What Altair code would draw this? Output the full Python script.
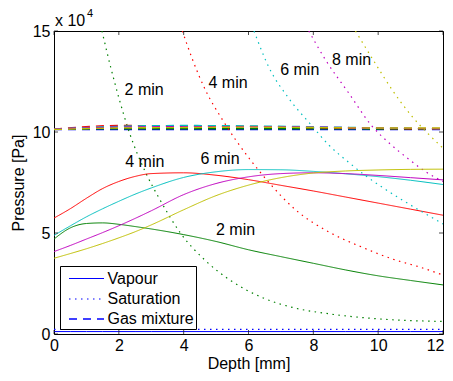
import altair as alt
import pandas as pd

FONT = "Liberation Sans"

times = ["0 min", "2 min", "4 min", "6 min", "8 min", "10 min"]
colors = ["#0000ff", "#008000", "#ff0000", "#00bfbf", "#bf00bf", "#bfbf00"]
kinds = ["Vapour", "Saturation", "Gas mixture"]

# Vapour pressure (x 10^4 Pa) vs depth (mm)
vap_depth = [0, 0.5, 1, 1.5, 2, 2.5, 3, 4, 5, 6, 7, 8, 9, 10, 11, 12]
vap_0 = [0.12, 0.12, 0.12, 0.12, 0.12, 0.12, 0.12, 0.12, 0.12, 0.12, 0.12, 0.12, 0.12, 0.12, 0.12, 0.12]
vap_2 = [4.70, 5.25, 5.47, 5.50, 5.43, 5.32, 5.20, 4.92, 4.58, 4.17, 3.83, 3.50, 3.17, 2.88, 2.65, 2.43]
vap_4 = [5.74, 6.20, 6.72, 7.20, 7.55, 7.80, 7.94, 7.98, 7.86, 7.64, 7.36, 7.08, 6.78, 6.48, 6.18, 5.88]
vap_6 = [4.88, 5.35, 5.80, 6.20, 6.57, 6.92, 7.23, 7.75, 8.03, 8.14, 8.13, 8.05, 7.93, 7.79, 7.61, 7.40]
vap_8 = [4.08, 4.38, 4.70, 5.02, 5.36, 5.72, 6.10, 6.90, 7.45, 7.78, 7.94, 7.98, 7.94, 7.85, 7.74, 7.63]
vap_10 = [3.75, 3.98, 4.22, 4.48, 4.76, 5.06, 5.40, 6.15, 6.85, 7.37, 7.74, 7.97, 8.07, 8.12, 8.15, 8.16]

# Saturation pressure (x 10^4 Pa)
sat_0_depth = [0, 12]
sat_0 = [0.23, 0.23]
sat_2_depth = [1.48, 1.75, 2.0, 2.32, 2.84, 3.25, 3.9, 4.68, 5.4, 6.43, 7.45, 8.48, 10.0, 12.0]
sat_2 = [15.0, 13.2, 11.7, 10.0, 7.95, 6.7, 5.0, 3.62, 2.7, 1.8, 1.28, 1.0, 0.75, 0.62]
sat_4_depth = [3.96, 4.27, 4.68, 5.2, 5.6, 6.02, 6.63, 7.45, 8.48, 9.5, 10.5, 11.25, 12.0]
sat_4 = [15.0, 13.6, 12.05, 10.6, 9.62, 8.7, 7.5, 6.15, 5.05, 4.3, 3.68, 3.33, 2.92]
sat_6_depth = [6.17, 6.63, 7.25, 7.96, 8.48, 9.09, 9.6, 10.12, 11.14, 12.0]
sat_6 = [15.0, 13.2, 11.65, 10.3, 9.35, 8.5, 7.85, 7.27, 6.25, 5.45]
sat_8_depth = [7.86, 8.38, 9.09, 9.81, 10.32, 10.94, 11.45, 12.0]
sat_8 = [15.0, 13.56, 11.93, 10.29, 9.48, 8.66, 8.05, 7.55]
sat_10_depth = [9.3, 9.91, 10.43, 11.04, 11.55, 12.0]
sat_10 = [15.0, 13.4, 12.09, 10.78, 9.9, 9.2]

# Gas mixture pressure (x 10^4 Pa)
gas_depth = [0, 2, 4, 6, 8, 10, 12]
gas_0 = [10.12, 10.12, 10.12, 10.12, 10.12, 10.12, 10.12]
gas_2 = [10.14, 10.16, 10.16, 10.16, 10.16, 10.15, 10.14]
gas_4 = [10.14, 10.32, 10.30, 10.28, 10.22, 10.18, 10.15]
gas_6 = [10.14, 10.28, 10.32, 10.30, 10.26, 10.20, 10.16]
gas_8 = [10.14, 10.24, 10.26, 10.26, 10.24, 10.20, 10.17]
gas_10 = [10.12, 10.20, 10.22, 10.24, 10.22, 10.20, 10.20]

vap_series = [vap_0, vap_2, vap_4, vap_6, vap_8, vap_10]
sat_series = [(sat_0_depth, sat_0), (sat_2_depth, sat_2), (sat_4_depth, sat_4),
              (sat_6_depth, sat_6), (sat_8_depth, sat_8), (sat_10_depth, sat_10)]
gas_series = [gas_0, gas_2, gas_4, gas_6, gas_8, gas_10]

# Curve annotations
lab_text = ["2 min", "4 min", "6 min", "8 min", "4 min", "6 min", "2 min"]
lab_x = [2.78, 5.37, 7.58, 9.18, 2.80, 5.12, 5.60]
lab_y = [12.06, 12.45, 13.07, 13.58, 8.50, 8.66, 5.17]

x_ticks = [0, 2, 4, 6, 8, 10, 12]
y_ticks = [0, 5, 10, 15]

rows = []
order = 0
for i, t in enumerate(times):
    for x, y in zip(vap_depth, vap_series[i]):
        rows.append(dict(depth=x, p=y, time=t, kind="Vapour", grp=order))
    order += 1
    d, v = sat_series[i]
    for x, y in zip(d, v):
        rows.append(dict(depth=x, p=y, time=t, kind="Saturation", grp=order))
    order += 1
    for x, y in zip(gas_depth, gas_series[i]):
        rows.append(dict(depth=x, p=y, time=t, kind="Gas mixture", grp=order))
    order += 1
df = pd.DataFrame(rows)

W, H = 389, 303
FS = 16

xs = alt.Scale(domain=[0, 12], nice=False, zero=False)
ys = alt.Scale(domain=[0, 15], nice=False)

lines = alt.Chart(df).mark_line(clip=True, interpolate="monotone").encode(
    x=alt.X("depth:Q", scale=xs,
            axis=alt.Axis(values=x_ticks, title="Depth [mm]", grid=False, ticks=False, domain=False,
                          labelPadding=3, titleY=34, titleBaseline="alphabetic", format="d",
                          labelAlign=alt.ExprRef(expr="datum.value == 12 ? 'right' : 'center'"),
                          labelOffset=alt.ExprRef(expr="datum.value == 12 ? 1 : 0"))),
    y=alt.Y("p:Q", scale=ys,
            axis=alt.Axis(values=y_ticks, title="Pressure [Pa]", grid=False, ticks=False, domain=False,
                          labelPadding=4, titlePadding=6, format="d")),
    color=alt.Color("time:N", scale=alt.Scale(domain=times, range=colors), legend=None),
    strokeDash=alt.StrokeDash(
        "kind:N",
        scale=alt.Scale(domain=kinds, range=[[1, 0], [1.5, 4.5], [8, 6]]),
        legend=alt.Legend(title=None, orient="none", legendX=6, legendY=235,
                          symbolType="M-1.75,0H1.75", symbolSize=400,
                          symbolStrokeColor="#0000ff", symbolStrokeWidth=1,
                          symbolFillColor="transparent", symbolOffset=13.5,
                          labelOffset=10, labelFontSize=FS, labelFont=FONT, labelColor="black",
                          padding=2, rowPadding=1, fillColor="white", strokeColor="black"),
    ),
    strokeWidth=alt.StrokeWidth("kind:N", scale=alt.Scale(domain=kinds, range=[1, 1.4, 1]), legend=None),
    detail="grp:N",
    order="depth:Q",
)

labels_df = pd.DataFrame(dict(depth=lab_x, p=lab_y, text=lab_text))
labels = alt.Chart(labels_df).mark_text(fontSize=FS, font=FONT, color="black",
                                        align="center", baseline="middle").encode(
    x=alt.X("depth:Q", scale=xs), y=alt.Y("p:Q", scale=ys), text="text:N")

exp_df = pd.DataFrame(dict(depth=[0], p=[15]))
exp_base = alt.Chart(exp_df).mark_text(fontSize=FS, font=FONT, color="black", align="left",
                                       baseline="alphabetic", dx=1, dy=-5, text="x 10").encode(
    x=alt.X("depth:Q", scale=xs), y=alt.Y("p:Q", scale=ys))
exp_sup = alt.Chart(exp_df).mark_text(fontSize=11, font=FONT, color="black", align="left",
                                      baseline="alphabetic", dx=33, dy=-14, text="4").encode(
    x=alt.X("depth:Q", scale=xs), y=alt.Y("p:Q", scale=ys))

xt_df = pd.DataFrame(dict(depth=x_ticks))
yt_df = pd.DataFrame(dict(p=y_ticks))
xt_bot = alt.Chart(xt_df).mark_tick(color="black", thickness=1, size=4, yOffset=-2).encode(
    x=alt.X("depth:Q", scale=xs), y=alt.value(H))
xt_top = alt.Chart(xt_df).mark_tick(color="black", thickness=1, size=4, yOffset=2).encode(
    x=alt.X("depth:Q", scale=xs), y=alt.value(0))
yt_left = alt.Chart(yt_df).mark_tick(color="black", thickness=1, size=4, xOffset=2).encode(
    y=alt.Y("p:Q", scale=ys), x=alt.value(0))
yt_right = alt.Chart(yt_df).mark_tick(color="black", thickness=1, size=4, xOffset=-2).encode(
    y=alt.Y("p:Q", scale=ys), x=alt.value(W))

chart = alt.layer(lines, labels, exp_base, exp_sup, xt_bot, xt_top, yt_left, yt_right).properties(
    width=W, height=H,
    autosize=alt.AutoSizeParams(type="none"),
    padding={"left": 46, "top": 23, "right": 2, "bottom": 38},
).configure(font=FONT).configure_view(stroke="black", strokeWidth=1).configure_axis(
    labelFontSize=FS, titleFontSize=FS, labelColor="black", titleColor="black",
    titleFontWeight="normal", labelFont=FONT, titleFont=FONT
)

chart.save("out.html", embed_options={"renderer": "svg", "actions": False})
